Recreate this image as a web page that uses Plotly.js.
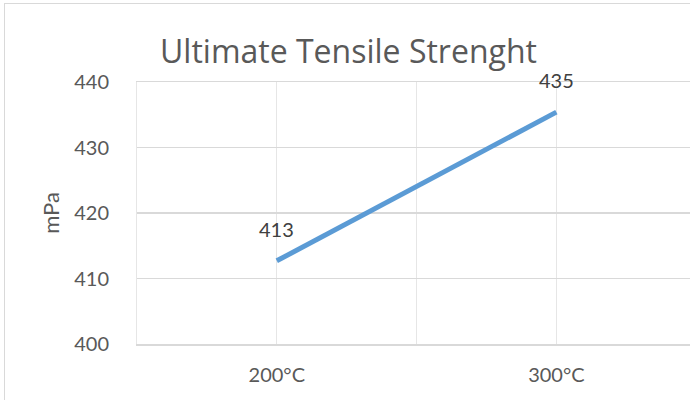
<!DOCTYPE html>
<html><head><meta charset="utf-8">
<script src="https://cdn.plot.ly/plotly-3.0.1.min.js"></script>
<style>
html,body{margin:0;padding:0;background:#fff;overflow:hidden}
#frame{position:absolute;left:4px;top:3px;width:720px;height:420px;border:1.5px solid #d9d9d9}
#chart{position:absolute;left:0;top:0;width:690px;height:400px}
</style></head>
<body><div id="frame"></div><div id="chart"></div>
<script>
const categories = ['200°C', '300°C'];
const strength = [412.7, 435.4];
const chartTitle = 'Ultimate Tensile Strenght';
const yTitle = 'mPa';
const yTicks = [400, 410, 420, 430, 440];

const grey = '#595959';
const xIdx = categories.map((c, i) => i);
// grid every half category (Excel draws lines at categories and between them)
const xGrid = [-0.5, 0, 0.5, 1];
const xText = xGrid.map(v => Number.isInteger(v) ? categories[v] : '');

const trace = {
  x: xIdx, y: strength, type: 'scatter', mode: 'lines',
  line: {color: '#5B9BD5', width: 5}, hoverinfo: 'skip'
};
const ann = xIdx.map(i => ({
  x: i, y: strength[i], xref: 'x', yref: 'y', text: strength[i].toFixed(0),
  showarrow: false, yshift: 32, font: {family: 'Lato', size: 20, color: '#404040'}
}));
const layout = {
  width: 690, height: 400,
  paper_bgcolor: 'rgba(0,0,0,0)', plot_bgcolor: 'rgba(0,0,0,0)',
  margin: {l: 137, r: 0, t: 82, b: 56},
  showlegend: false,
  title: {text: chartTitle, x: 0.505, xref: 'container', y: 0.87, yref: 'container',
          xanchor: 'center', yanchor: 'middle',
          font: {family: 'Open Sans', size: 32, color: grey}},
  xaxis: {type: 'linear', range: [-0.5, 1.478], tickvals: xGrid, ticktext: xText,
          showgrid: true, gridcolor: '#e6e6e6', gridwidth: 1, zeroline: false,
          showline: true, mirror: true, linecolor: '#d9d9d9', linewidth: 1.5,
          ticks: 'outside', ticklen: 12, tickcolor: 'rgba(0,0,0,0)',
          tickfont: {family: 'Lato', size: 20, color: grey}},
  yaxis: {range: [400, 440], tickvals: yTicks, showgrid: true, gridcolor: '#d9d9d9',
          gridwidth: 1.5, zeroline: false,
          showline: true, linecolor: '#e6e6e6', linewidth: 1,
          ticks: 'outside', ticklen: 23, tickcolor: 'rgba(0,0,0,0)',
          tickfont: {family: 'Lato', size: 20, color: grey},
          title: {text: yTitle, standoff: 8, font: {family: 'Lato', size: 22, color: grey}}},
  annotations: ann
};
Plotly.newPlot('chart', [trace], layout, {displayModeBar: false, staticPlot: true});
</script></body></html>
